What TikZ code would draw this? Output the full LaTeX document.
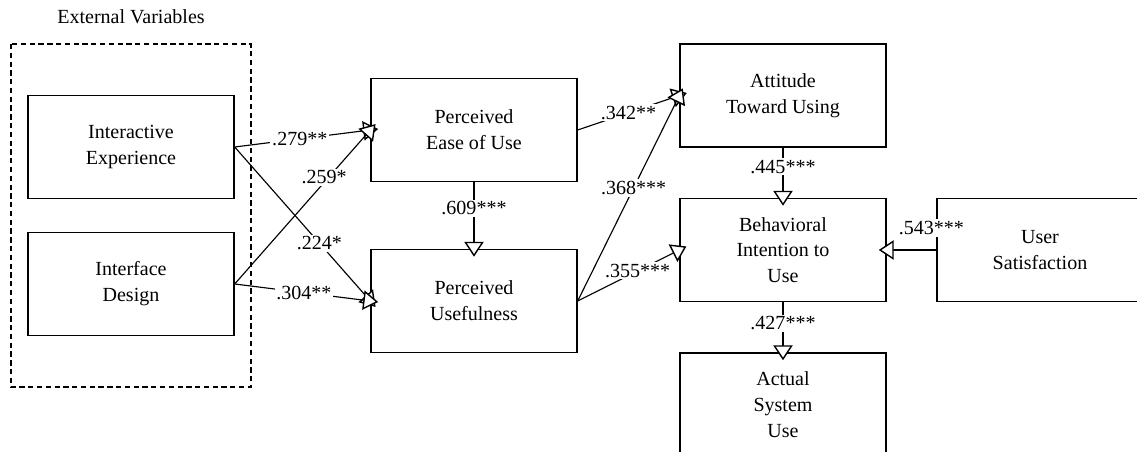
\documentclass[tikz,border=0pt]{standalone}
\usepackage{fontspec}
\setmainfont{Liberation Serif}
\usetikzlibrary{arrows.meta}

\tikzset{
    factor/.style={draw, line width=0.8pt, minimum width=4.12cm, minimum height=2.06cm, align=center, fill=white},
    path/.style={line width=0.65pt, -{Triangle[width=11pt,length=8.5pt,fill=white,line width=0.8pt]}, shorten >=-4.5pt},
    weight/.style={fill=white, inner sep=1pt}
}

\begin{document}
\begin{tikzpicture}[x=0.02cm, y=-0.02cm, font=\fontsize{11.4}{14.7}\selectfont]
                \useasboundingbox (0,0) rectangle (1137,452);
                \clip (0,0) rectangle (1137,452);
                %external variables
                \node (extlabel) at (131,17) {External Variables};
                \draw[dashed, line width=0.7pt, dash pattern=on 3pt off 2pt] (11,44) rectangle (251,387);
                %boxes
                \node[factor] (ie) at (131,147) {Interactive\\Experience};
                \node[factor] (id) at (131,284) {Interface\\Design};
                \node[factor] (peou) at (474,130) {Perceived\\Ease of Use};
                \node[factor] (pu) at (474,301) {Perceived\\Usefulness};
                \node[factor] (atu) at (783,95.5) {Attitude\\Toward Using};
                \node[factor] (bi) at (783,250) {Behavioral\\Intention to\\Use};
                \node[factor] (us) at (1040,250) {User\\Satisfaction};
                \node[factor] (asu) at (783,404.5) {Actual\\System\\Use};
                %paths
                \foreach \a/\b/\p/\w in {ie.east/peou.west/0.48/.279**,
                                         ie.east/pu.west/0.625/.224*,
                                         id.east/pu.west/0.51/.304**,
                                         peou.south/pu.north/0.39/.609***,
                                         peou.east/atu.west/0.5/.342**,
                                         pu.east/atu.west/0.55/.368***,
                                         pu.east/bi.west/0.59/.355***,
                                         atu.south/bi.north/0.385/.445***,
                                         bi.south/asu.north/0.42/.427***}
                    \draw[path] (\a) -- node[weight, pos=\p] {\w} (\b);
                \draw[path] (id.east) -- node[weight, pos=0.66, yshift=3pt] {.259*} (peou.west);
                \draw[path] (us.west) -- node[weight, pos=0.1, yshift=0.44cm] {.543***} (bi.east);
            \end{tikzpicture}
\end{document}
